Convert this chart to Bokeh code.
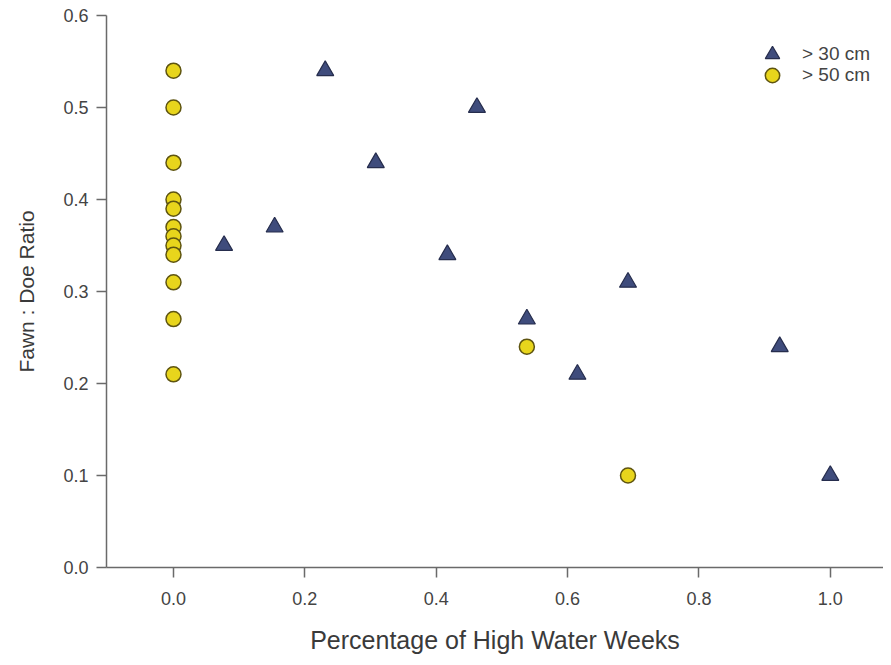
from bokeh.plotting import figure
from bokeh.models import Range1d, FixedTicker, PrintfTickFormatter, Legend, LegendItem
from bokeh.embed import file_html
from bokeh.resources import INLINE

# Data
tri_x = [0.077, 0.154, 0.231, 0.308, 0.417, 0.462, 0.538, 0.615, 0.692, 0.923, 1.0]
tri_y = [0.35, 0.37, 0.54, 0.44, 0.34, 0.50, 0.27, 0.21, 0.31, 0.24, 0.10]
cir_x = [0.0, 0.0, 0.0, 0.0, 0.0, 0.0, 0.0, 0.0, 0.0, 0.0, 0.0, 0.0, 0.538, 0.692]
cir_y = [0.54, 0.50, 0.44, 0.40, 0.39, 0.37, 0.36, 0.35, 0.34, 0.31, 0.27, 0.21, 0.24, 0.10]
x_ticks = [0.0, 0.2, 0.4, 0.6, 0.8, 1.0]
y_ticks = [0.0, 0.1, 0.2, 0.3, 0.4, 0.5, 0.6]
series_labels = ["> 30 cm", "> 50 cm"]
x_title = "Percentage of High Water Weeks"
y_title = "Fawn : Doe Ratio"

FONT = "Liberation Sans"
AX = "#6a6a6a"

p = figure(width=883, height=657, output_backend="svg", toolbar_location=None,
           x_range=Range1d(-0.102, 1.081), y_range=Range1d(0.0, 0.6),
           min_border_left=106, min_border_right=0, min_border_top=15, min_border_bottom=90)
p.outline_line_color = None
p.xgrid.visible = False
p.ygrid.visible = False
p.background_fill_color = "white"
p.border_fill_color = "white"

for ax in (p.xaxis[0], p.yaxis[0]):
    ax.axis_line_color = AX
    ax.axis_line_width = 1.5
    ax.major_tick_line_color = AX
    ax.major_tick_line_width = 1.5
    ax.major_tick_out = 10
    ax.major_tick_in = 0
    ax.minor_tick_line_color = None
    ax.major_label_text_font = FONT
    ax.major_label_text_font_size = "18px"
    ax.major_label_text_color = "#444444"
    ax.axis_label_text_font = FONT
    ax.axis_label_text_font_style = "normal"
    ax.axis_label_text_color = "#3a3a3a"
    ax.formatter = PrintfTickFormatter(format="%.1f")

p.xaxis[0].ticker = FixedTicker(ticks=x_ticks)
p.yaxis[0].ticker = FixedTicker(ticks=y_ticks)
p.xaxis[0].axis_label = x_title
p.yaxis[0].axis_label = y_title
p.xaxis[0].axis_label_text_font_size = "25px"
p.yaxis[0].axis_label_text_font_size = "21px"
p.xaxis[0].major_label_standoff = 14
p.yaxis[0].major_label_standoff = 8
p.xaxis[0].axis_label_standoff = 18
p.yaxis[0].axis_label_standoff = 22

r_tri = p.scatter(tri_x, tri_y, marker="triangle", size=17,
                  fill_color="#3f4c7c", line_color="#262d4d", line_width=1.2)
r_cir = p.scatter(cir_x, cir_y, marker="circle", size=15,
                  fill_color="#e8d51c", line_color="#5e5410", line_width=1.5)

common = dict(padding=0, margin=0, spacing=0, glyph_width=36, glyph_height=36,
              label_height=16, label_standoff=12, label_text_font=FONT,
              label_text_font_size="19px", label_text_color="#444444",
              border_line_color=None, background_fill_alpha=0)
leg1 = Legend(items=[LegendItem(label=series_labels[0], renderers=[r_tri])],
              location=(648, 495), **common)
leg2 = Legend(items=[LegendItem(label=series_labels[1], renderers=[r_cir])],
              location=(648, 474), **common)
p.add_layout(leg1, "center")
p.add_layout(leg2, "center")

open("out.html", "w").write(file_html(p, INLINE))
